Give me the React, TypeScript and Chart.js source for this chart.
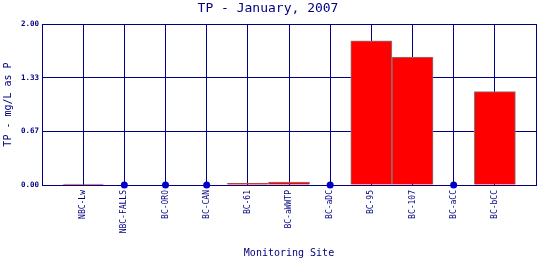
import React, { useEffect, useRef } from 'react';
import { Chart, registerables } from 'chart.js';
Chart.register(...registerables);

const titleText = 'TP - January, 2007';
const yTitle = 'TP - mg/L as P';
const xTitle = 'Monitoring Site';
const sites = ['NBC-Lw', 'NBC-FALLS', 'BC-ORO', 'BC-CAN', 'BC-61', 'BC-aWWTP', 'BC-aDC', 'BC-95', 'BC-107', 'BC-aCC', 'BC-bCC'];
const tpValues: (number | null)[] = [0.01, null, null, null, 0.02, 0.035, null, 1.79, 1.59, null, 1.16];
const yTickValues = [0, 0.667, 1.333, 2.0];

const NAVY = '#000080';
const FONT = "'DejaVu Sans Mono', monospace";

export default function App() {
  const ref = useRef<HTMLCanvasElement | null>(null);
  useEffect(() => {
    if (!ref.current) return;
    const labels = ['', ...sites, ''];
    const barData = [null, ...tpValues, null];
    const dotData = [null, ...tpValues.map((v) => (v === null ? 0 : null)), null];
    const chart = new Chart(ref.current, {
      type: 'bar',
      data: {
        labels,
        datasets: [
          {
            type: 'bar',
            data: barData as any,
            backgroundColor: '#FF0000',
            borderColor: '#808080',
            borderWidth: 1,
            barPercentage: 1,
            categoryPercentage: 1,
          },
          {
            type: 'line',
            data: dotData as any,
            showLine: false,
            pointRadius: 3.5,
            pointBackgroundColor: '#0000CC',
            pointBorderColor: '#0000CC',
            pointBorderWidth: 0,
            clip: false as any,
          } as any,
        ],
      },
      options: {
        responsive: false,
        animation: false,
        layout: { padding: { left: 0, right: 4, top: 0, bottom: 0 } },
        plugins: {
          legend: { display: false },
          tooltip: { enabled: false },
          title: {
            display: true,
            text: titleText,
            color: NAVY,
            font: { family: FONT, size: 13, weight: 'normal' as any, lineHeight: 1.2 },
            padding: { top: 1, bottom: 7.4 },
          },
        },
        scales: {
          x: {
            type: 'category',
            offset: false,
            grid: { offset: false, color: NAVY, lineWidth: 1, drawTicks: false },
            border: { color: NAVY, width: 1 },
            ticks: {
              autoSkip: false,
              maxRotation: 90,
              minRotation: 90,
              padding: 5,
              color: NAVY,
              font: { family: FONT, size: 8 },
            },
            title: {
              display: true,
              text: xTitle,
              color: NAVY,
              font: { family: FONT, size: 10, lineHeight: 1.2 },
              padding: { top: 0, bottom: 1 },
            },
            afterFit: (s: any) => {
              s.height = 75;
              s.paddingLeft = 0;
              s.paddingRight = 0;
            },
          },
          y: {
            min: 0,
            max: 2,
            grid: { color: NAVY, lineWidth: 1, drawTicks: false },
            border: { color: NAVY, width: 1 },
            afterBuildTicks: (s: any) => {
              s.ticks = yTickValues.map((v) => ({ value: v }));
            },
            ticks: {
              padding: 3,
              color: NAVY,
              font: { family: FONT, size: 7.5, weight: 'bold' as any },
              callback: (v: any) => Number(v).toFixed(2),
            },
            title: {
              display: true,
              text: yTitle,
              color: NAVY,
              font: { family: FONT, size: 10, lineHeight: 1.2 },
              padding: { top: 2, bottom: 0 },
            },
            afterFit: (s: any) => {
              s.width = 42;
            },
          },
        },
      },
    });
    return () => chart.destroy();
  }, []);
  return (
    <div style={{ position: 'fixed', left: 0, top: 0, width: 540, height: 260, background: '#fff' }}>
      <canvas ref={ref} width={540} height={260} style={{ display: 'block' }} />
    </div>
  );
}
